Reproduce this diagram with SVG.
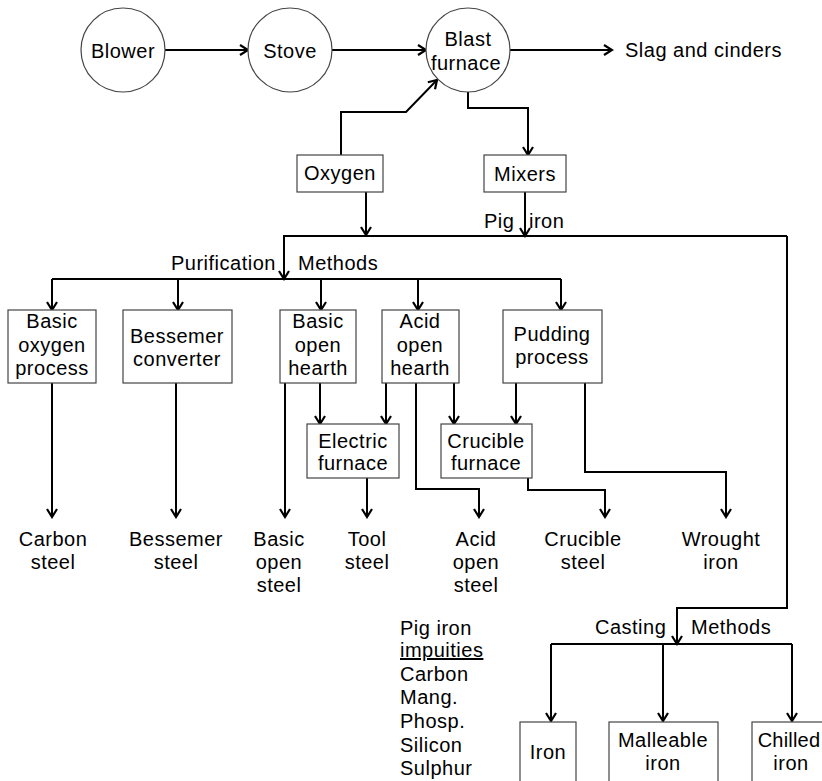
<svg xmlns="http://www.w3.org/2000/svg" width="822" height="781" viewBox="0 0 822 781">
<style>
text{font-family:"Liberation Sans",Arial,sans-serif;font-size:20px;letter-spacing:0.5px;fill:#000}
.c{text-anchor:middle}
.n{fill:#fff;stroke:#444;stroke-width:1.2}
.e{fill:none;stroke:#000;stroke-width:2;marker-end:url(#a)}
.l{fill:none;stroke:#000;stroke-width:2}
</style>
<defs>
<marker id="a" markerUnits="userSpaceOnUse" markerWidth="14" markerHeight="14" viewBox="0 0 14 14" refX="12" refY="7" orient="auto">
<path d="M4,2 L12,7 L4,12" fill="none" stroke="#000" stroke-width="2.2"/>
</marker>
</defs>
<rect width="822" height="781" fill="#fff"/>

<g id="connectors">
<path class="e" d="M165,50 H248"/>
<path class="e" d="M332,50 H426"/>
<path class="e" d="M510,50 H612"/>
<path class="e" d="M341,155 V112 H406 L437,80"/>
<path class="e" d="M468,92 V108 H528 V155"/>
<path class="e" d="M366,192 V235"/>
<path class="e" d="M525,192 V236"/>
<path class="e" d="M787,236 H284 V279"/>
<path class="e" d="M787,236 V608 H677 V644"/>
<path class="l" d="M52,279 H561"/>
<path class="e" d="M52,279 V310"/>
<path class="e" d="M178,279 V310"/>
<path class="e" d="M321,279 V310"/>
<path class="e" d="M418,279 V310"/>
<path class="e" d="M561,279 V310"/>
<path class="e" d="M52,383 V517"/>
<path class="e" d="M176,383 V517"/>
<path class="e" d="M285,383 V517"/>
<path class="e" d="M320,383 V424"/>
<path class="e" d="M386,383 V424"/>
<path class="e" d="M416,383 V489 H479 V517"/>
<path class="e" d="M454,383 V424"/>
<path class="e" d="M516,383 V424"/>
<path class="e" d="M585,383 V472 H726 V517"/>
<path class="e" d="M367,478 V517"/>
<path class="e" d="M528,478 V490 H605 V517"/>
<path class="l" d="M551,644 H792"/>
<path class="e" d="M551,644 V721"/>
<path class="e" d="M663,644 V721"/>
<path class="e" d="M792,644 V721"/>
</g>

<g id="blower"><circle class="n" cx="123" cy="50" r="42"/><text class="c" x="123" y="58">Blower</text></g>
<g id="stove"><circle class="n" cx="290" cy="50" r="42"/><text class="c" x="290" y="58">Stove</text></g>
<g id="blast-furnace"><circle class="n" cx="468" cy="50" r="42"/><text class="c" x="468" y="46">Blast</text><text class="c" x="466" y="70">furnace</text></g>
<g id="slag"><text x="625" y="57">Slag and cinders</text></g>
<g id="oxygen"><rect class="n" x="297" y="155" width="86" height="37"/><text class="c" x="340" y="180">Oxygen</text></g>
<g id="mixers"><rect class="n" x="484" y="155" width="82" height="37"/><text class="c" x="525" y="181">Mixers</text></g>
<g id="pig-iron-label"><text x="484" y="228">Pig <tspan x="529">iron</tspan></text></g>
<g id="purification-label"><text x="171" y="270">Purification <tspan x="298">Methods</tspan></text></g>
<g id="casting-label"><text x="595" y="634">Casting <tspan x="691">Methods</tspan></text></g>

<g id="basic-oxygen"><rect class="n" x="8" y="310" width="88" height="73"/><text class="c" x="52" y="328">Basic</text><text class="c" x="52" y="352">oxygen</text><text class="c" x="52" y="375">process</text></g>
<g id="bessemer-converter"><rect class="n" x="123" y="310" width="109" height="73"/><text class="c" x="177" y="343">Bessemer</text><text class="c" x="177" y="366">converter</text></g>
<g id="basic-open-hearth"><rect class="n" x="280" y="310" width="76" height="73"/><text class="c" x="318" y="328">Basic</text><text class="c" x="318" y="352">open</text><text class="c" x="318" y="375">hearth</text></g>
<g id="acid-open-hearth"><rect class="n" x="382" y="310" width="77" height="73"/><text class="c" x="420" y="328">Acid</text><text class="c" x="420" y="352">open</text><text class="c" x="420" y="375">hearth</text></g>
<g id="pudding-process"><rect class="n" x="503" y="310" width="99" height="73"/><text class="c" x="552" y="341">Pudding</text><text class="c" x="552" y="364">process</text></g>
<g id="electric-furnace"><rect class="n" x="307" y="424" width="92" height="54"/><text class="c" x="353" y="448">Electric</text><text class="c" x="353" y="470">furnace</text></g>
<g id="crucible-furnace"><rect class="n" x="441" y="424" width="91" height="54"/><text class="c" x="486" y="448">Crucible</text><text class="c" x="486" y="470">furnace</text></g>

<g id="carbon-steel"><text class="c" x="53" y="546">Carbon</text><text class="c" x="53" y="569">steel</text></g>
<g id="bessemer-steel"><text class="c" x="176" y="546">Bessemer</text><text class="c" x="176" y="569">steel</text></g>
<g id="basic-open-steel"><text class="c" x="279" y="546">Basic</text><text class="c" x="279" y="569">open</text><text class="c" x="279" y="592">steel</text></g>
<g id="tool-steel"><text class="c" x="367" y="546">Tool</text><text class="c" x="367" y="569">steel</text></g>
<g id="acid-open-steel"><text class="c" x="476" y="546">Acid</text><text class="c" x="476" y="569">open</text><text class="c" x="476" y="592">steel</text></g>
<g id="crucible-steel"><text class="c" x="583" y="546">Crucible</text><text class="c" x="583" y="569">steel</text></g>
<g id="wrought-iron"><text class="c" x="721" y="546">Wrought</text><text class="c" x="721" y="569">iron</text></g>

<g id="impurities">
<text x="400" y="635">Pig iron</text>
<text x="400" y="657" text-decoration="underline">impuities</text>
<text x="400" y="681">Carbon</text>
<text x="400" y="704">Mang.</text>
<text x="400" y="728">Phosp.</text>
<text x="400" y="752">Silicon</text>
<text x="400" y="775">Sulphur</text>
</g>

<g id="iron"><rect class="n" x="520" y="722" width="56" height="80"/><text class="c" x="548" y="759">Iron</text></g>
<g id="malleable-iron"><rect class="n" x="609" y="722" width="109" height="80"/><text class="c" x="663" y="747">Malleable</text><text class="c" x="663" y="770">iron</text></g>
<g id="chilled-iron"><rect class="n" x="752" y="722" width="90" height="80"/><text class="c" x="789" y="747" style="letter-spacing:0.2px">Chilled</text><text class="c" x="791" y="770">iron</text></g>
</svg>
